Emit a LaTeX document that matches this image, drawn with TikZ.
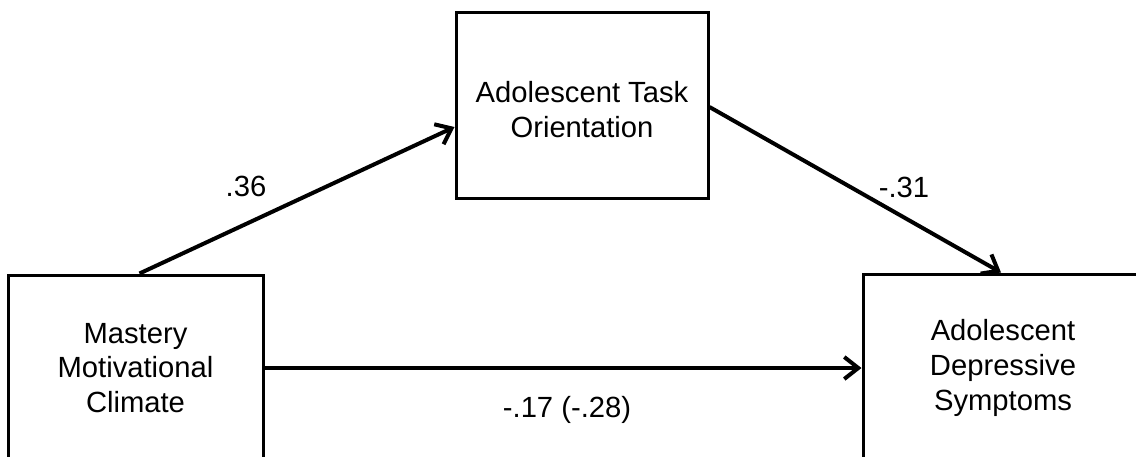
\documentclass[tikz,border=0pt]{standalone}
\usepackage{fontspec}
\setmainfont{Liberation Sans}
\usetikzlibrary{arrows.meta,calc}
\tikzset{
  box/.style={draw=black, line width=1.5pt, fill=white, align=center, inner sep=0pt,
    font=\fontsize{14.6}{17.4}\selectfont},
  conn/.style={line width=2pt, -{Straight Barb[length=7pt,width=11pt,line width=2pt]}},
  lbl/.style={font=\fontsize{14.6}{17.4}\selectfont}
}
\begin{document}
\begin{tikzpicture}[x=0.5pt,y=-0.5pt]
\useasboundingbox (0,0) rectangle (1136,456);
\clip (0,0) rectangle (1136,456);
\node[box, minimum width=127.5pt, minimum height=93pt] (mc) at (135.5,368) {Mastery\\Motivational\\Climate};
\node[box, minimum width=126pt, minimum height=93pt] (to) at (582,105) {\rule{0pt}{15.5pt}Adolescent Task\\Orientation};
\node[box, minimum width=140pt, minimum height=94pt] (ds) at (1003,368) {Adolescent\\Depressive\\Symptoms};
\draw[conn] ($(mc.north)+(4,0)$) -- ($(to.west)+(0,22)$);
\draw[conn] ($(to.east)+(0,2)$) -- ($(ds.north)+(-2,0)$);
\draw[conn] (mc.east) -- (ds.west);
\node[lbl] (l1) at (246,186) {.36};
\node[lbl] (l2) at (904,187) {-.31};
\node[lbl] (l3) at (567,410) {-.17 (-.28)};
\end{tikzpicture}
\end{document}
